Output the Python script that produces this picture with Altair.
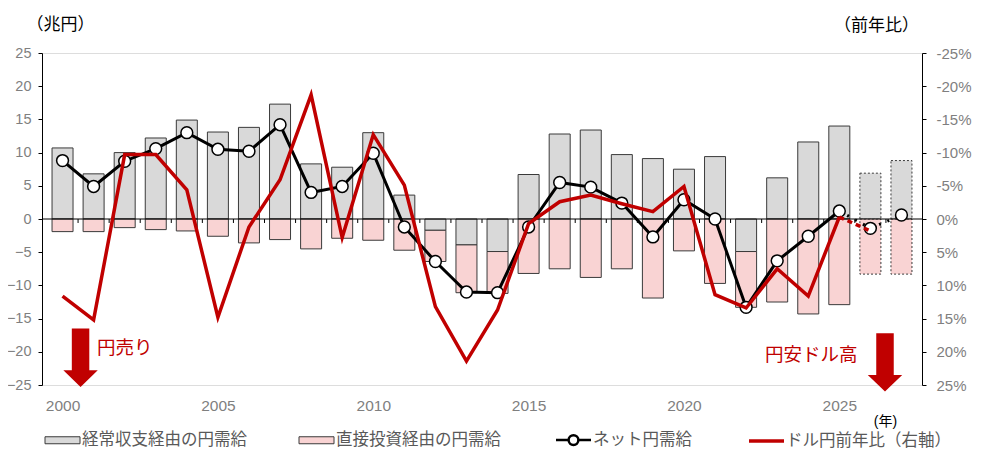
import altair as alt
import pandas as pd

YEARS = list(range(2000, 2028))
# 経常収支経由の円需給 (兆円)
CURRENT = [10.7, 6.8, 10.0, 12.2, 14.9, 13.1, 13.8, 17.3, 8.3, 7.8,
           13.0, 3.6, -1.7, -3.9, -4.9, 6.7, 12.8, 13.4, 9.7, 9.1,
           7.5, 9.4, -4.9, 6.2, 11.6, 14.0, 6.9, 8.8]
# 直接投資経由の円需給 (兆円)
DIRECT = [-1.9, -1.9, -1.3, -1.6, -1.8, -2.6, -3.6, -3.1, -4.5, -2.9,
          -3.2, -4.7, -4.7, -7.2, -6.3, -8.2, -7.5, -8.8, -7.5, -11.9,
          -4.8, -9.7, -8.4, -12.5, -14.3, -12.9, -8.3, -8.3]
# ネット円需給 (兆円)
NET = [8.8, 4.9, 8.7, 10.6, 13.0, 10.5, 10.2, 14.2, 4.0, 4.9,
       9.9, -1.2, -6.4, -11.0, -11.1, -1.2, 5.5, 4.8, 2.4, -2.7,
       2.9, 0.0, -13.3, -6.3, -2.6, 1.2, -1.4, 0.6]
# ドル円前年比 (%), 2000-2026
USDJPY = [11.6, 15.2, -9.7, -9.7, -4.4, 14.8, 1.2, -5.9, -18.7, 2.8,
          -12.7, -5.1, 13.2, 21.4, 13.7, 0.7, -2.6, -3.6, -2.3, -1.1,
          -4.9, 11.4, 13.4, 7.5, 11.6, -0.3, 1.8]

SERIES = ["経常収支経由の円需給", "直接投資経由の円需給", "ネット円需給", "ドル円前年比（右軸）"]
Y_TICKS = [-25, -20, -15, -10, -5, 0, 5, 10, 15, 20, 25]
X_LABELS = [2000, 2005, 2010, 2015, 2020, 2025]
LAST_ACTUAL = 2025

NOTE_TEXT = ["円売り", "円安ドル高"]
NOTE_X = [2002.0, 2024.1]
NOTE_Y = [-19.5, -20.5]
ARROW_X = [2000.58, 2026.47]
ARROW_Y = [-20.9, -21.6]

GRAY = "#d9d9d9"
PINK = "#f9d3d3"
RED = "#c00000"
EDGE = "#3a3a3a"
LABEL = "#7f7f7f"
JP = "Noto Sans CJK JP"
LATIN = "Liberation Sans, Noto Sans CJK JP"

BOX = "M-1,-0.2L1,-0.2L1,0.2L-1,0.2Z"
DOT_LINE = ("M-1,0L-0.28,0M0.28,0A0.28,0.28 0 1 1 -0.28,0"
            "A0.28,0.28 0 1 1 0.28,0M0.28,0L1,0")
LINE = "M-1,0L1,0"
ARROW = "M-0.3,-1L0.3,-1L0.3,0.43L0.59,0.43L0,1L-0.59,0.43L-0.3,0.43Z"

n = len(YEARS)
bars = pd.DataFrame({
    "year": YEARS * 2,
    "value": CURRENT + DIRECT,
    "order": [0] * n + [1] * n,
})
net = pd.DataFrame({"year": YEARS, "value": NET})
fx = pd.DataFrame({"year": YEARS[:len(USDJPY)], "pct": USDJPY})
ticks = pd.DataFrame({"year": [y + 0.5 for y in YEARS[:-1]]})
notes = pd.DataFrame({"year": NOTE_X, "value": NOTE_Y, "text": NOTE_TEXT})
arrows = pd.DataFrame({"year": ARROW_X, "value": ARROW_Y})

x_scale = alt.Scale(domain=[1999.5, 2027.5], nice=False, zero=False)
y_scale = alt.Scale(domain=[-25, 25], nice=False, zero=False)
y_right = alt.Scale(domain=[-25, 25], nice=False, zero=False, reverse=True)

x_axis = alt.Axis(
    values=X_LABELS, format="d", domain=False, ticks=False, grid=False,
    labelFont=LATIN, labelFontSize=15.5, labelColor=LABEL, labelPadding=13,
    title="(年)", titleFont=LATIN, titleFontSize=14, titleFontWeight="normal",
    titleColor="black", titleX=843, titleY=36, titleAlign="center",
    titleBaseline="middle",
)
y_axis = alt.Axis(
    values=Y_TICKS, tickCount=11, grid=False, domainColor="black", tickColor="black",
    tickSize=4, labelFont=LATIN, labelFontSize=14.5, labelColor=LABEL,
    labelPadding=7, labelOverlap=False, labelFlush=False, labelBound=False,
    title="（兆円）", titleFont=JP, titleFontSize=17,
    titleFontWeight="normal", titleColor="black", titleAngle=0,
    titleX=18, titleY=-29, titleAlign="center", titleBaseline="middle",
)
right_axis = alt.Axis(
    orient="right", values=Y_TICKS, tickCount=11, grid=False, domainColor="black",
    tickColor="black", tickSize=4, labelExpr="datum.value + '%'",
    labelFont=LATIN, labelFontSize=15, labelColor=LABEL, labelPadding=10,
    labelOverlap=False, labelFlush=False, labelBound=False,
    title="（前年比）", titleFont=JP, titleFontSize=17, titleFontWeight="normal",
    titleColor="black", titleAngle=0, titleX=-46, titleY=-28,
    titleAlign="center", titleBaseline="middle",
)


def bar_layer(test, **dash):
    return (
        alt.Chart(bars)
        .transform_filter(test)
        .mark_bar(size=21, stroke=EDGE, strokeWidth=1, **dash)
        .encode(
            x=alt.X("year:Q", scale=x_scale, axis=x_axis),
            y=alt.Y("value:Q", stack="zero", scale=y_scale, axis=y_axis),
            order=alt.Order("order:Q"),
            fill=alt.condition(alt.datum.order == 0, alt.value(GRAY), alt.value(PINK)),
        )
    )


bars_actual = bar_layer(alt.datum.year <= LAST_ACTUAL)
bars_est = bar_layer(alt.datum.year > LAST_ACTUAL, strokeDash=[2, 2])

zero_line = alt.Chart(pd.DataFrame({"value": [0]})).mark_rule(
    color="black", strokeWidth=1
).encode(y="value:Q")

tick_marks = alt.Chart(ticks).mark_rule(color="black", strokeWidth=1).encode(
    x="year:Q", y=alt.datum(0), y2=alt.datum(-0.6)
)

net_solid = alt.Chart(net).transform_filter(alt.datum.year <= LAST_ACTUAL).mark_line(
    color="black", strokeWidth=3
).encode(x="year:Q", y="value:Q")
net_dot = alt.Chart(net).transform_filter(alt.datum.year >= LAST_ACTUAL).mark_line(
    color="black", strokeWidth=3, strokeDash=[2, 7]
).encode(x="year:Q", y="value:Q")
net_pts = alt.Chart(net).mark_point(
    shape="circle", filled=True, fill="white", stroke="black",
    strokeWidth=1.5, size=140, opacity=1
).encode(x="year:Q", y="value:Q")

arrow_marks = alt.Chart(arrows).mark_point(
    shape=ARROW, filled=True, fill=RED, size=3400, opacity=1, strokeWidth=0
).encode(x="year:Q", y="value:Q")
note_marks = alt.Chart(notes).mark_text(
    font=JP, fontSize=18.5, color=RED, align="center", baseline="middle"
).encode(x="year:Q", y="value:Q", text="text:N")

leg = alt.Legend(
    title=None, orient="none", legendX=1, legendY=368, direction="horizontal",
    columns=4, columnPadding=50, labelOffset=0, symbolSize=1225,
    labelFont=JP, labelFontSize=16.5, labelColor="#595959", labelLimit=300,
)
legend_layer = (
    alt.Chart(pd.DataFrame({"series": SERIES}))
    .transform_filter("false")
    .mark_point(filled=True, opacity=1)
    .encode(
        fill=alt.Fill("series:N", scale=alt.Scale(domain=SERIES, range=[GRAY, PINK, "white", RED]), legend=leg),
        stroke=alt.Stroke("series:N", scale=alt.Scale(domain=SERIES, range=[EDGE, EDGE, "black", RED]), legend=leg),
        shape=alt.Shape("series:N", scale=alt.Scale(domain=SERIES, range=[BOX, BOX, DOT_LINE, LINE]), legend=leg),
        strokeWidth=alt.StrokeWidth(
            "series:N", scale=alt.Scale(type="ordinal", domain=SERIES, range=[1, 1, 2.5, 3.5]), legend=leg
        ),
    )
)

left = alt.layer(
    bars_actual, bars_est, zero_line, tick_marks, net_solid, net_dot, net_pts,
    arrow_marks, note_marks, legend_layer,
)

fx_solid = alt.Chart(fx).transform_filter(alt.datum.year <= LAST_ACTUAL).mark_line(
    color=RED, strokeWidth=3.5
).encode(x="year:Q", y=alt.Y("pct:Q", scale=y_right, axis=right_axis))
fx_dash = alt.Chart(fx).transform_filter(alt.datum.year >= LAST_ACTUAL).mark_line(
    color=RED, strokeWidth=3.5, strokeDash=[5, 4]
).encode(x="year:Q", y="pct:Q")
right = alt.layer(fx_solid, fx_dash)

chart = (
    alt.layer(left, right)
    .resolve_scale(y="independent")
    .properties(
        width=880, height=332, autosize="none",
        padding={"left": 34, "top": 45, "right": 52, "bottom": 64},
    )
    .configure_view(stroke=None)
    .configure_axis(labelOverlap=False)
    .configure(font=LATIN)
)

chart.save("out.html", embed_options={"renderer": "svg", "actions": False})
